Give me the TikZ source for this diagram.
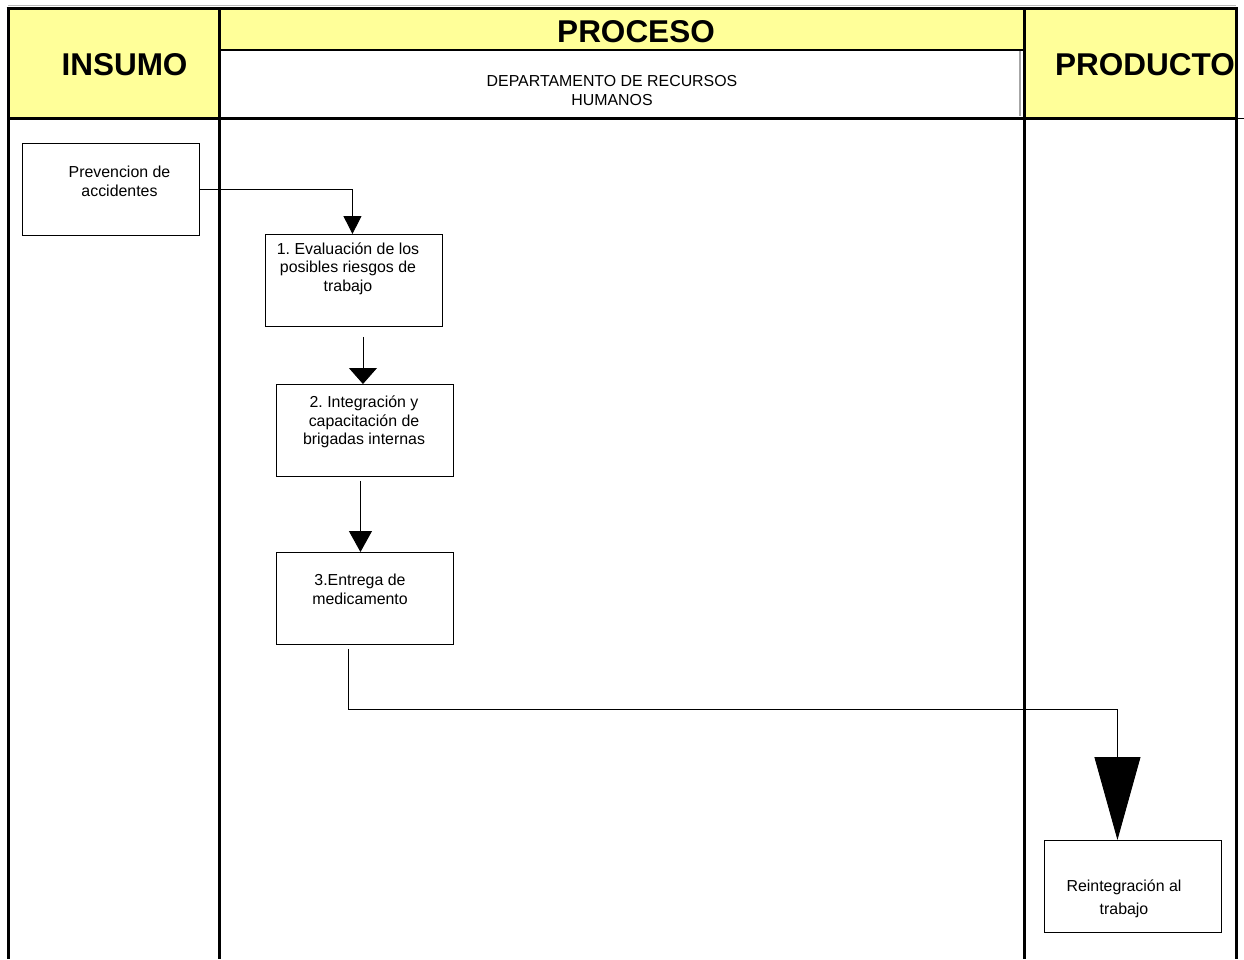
\documentclass[tikz,border=0pt]{standalone}
\usepackage{fontspec}
\setmainfont{Liberation Sans}
\usetikzlibrary{arrows.meta,calc}
\definecolor{hdr}{HTML}{FFFF99}
\frenchspacing
\begin{document}
\begin{tikzpicture}[x=1pt,y=-1pt,
  lane/.style={line width=3pt},
  stepbox/.style={draw, line width=0.9pt, minimum width=177pt, minimum height=92pt,
    inner sep=0pt, anchor=north west},
  txt/.style={font=\fontsize{15.9}{18.6}\selectfont, align=center, inner sep=0pt},
  big/.style={font=\fontsize{31.5}{34}\selectfont\bfseries, inner sep=0pt},
  flow/.style={line width=0.9pt}]
\useasboundingbox (0,0) rectangle (1244,959);
\fill[white] (0,0) rectangle (1244,959);

% header cells
\fill[hdr] (8,8) rectangle (219,118);
\fill[hdr] (219,8) rectangle (1024,50);
\fill[hdr] (1024,8) rectangle (1236,118);
\draw[gray!55, line width=0.8pt] (8,5) -- (1236,5);
\draw[gray!70, line width=1.3pt] (1020,50) -- (1020,116);
\draw[line width=0.6pt] (1236,118) -- (1244,118);

\node[big] (insumo) at (124.5,65) {INSUMO};
\node[big] (proceso) at (636,32) {PROCESO};
\node[big, anchor=west] (producto) at (1055,65) {PRODUCTO};
\node[txt] (depto) at (612,90.5) {DEPARTAMENTO DE RECURSOS\\HUMANOS};

% swimlane frame
\draw[lane] (6.5,8) -- (1237.5,8);
\draw[lane] (8,8) -- (8,959);
\draw[lane] (219,8) -- (219,959);
\draw[lane] (1024,8) -- (1024,959);
\draw[lane] (1236,8) -- (1236,959);
\draw[lane] (8,118) -- (1236,118);
\draw[line width=2.5pt] (219,50) -- (1024,50);

% process boxes
\node[stepbox] (prev) at (22,143) {};
\node[stepbox] (b1) at (265,234) {};
\node[stepbox] (b2) at (276,384) {};
\node[stepbox] (b3) at (276,552) {};
\node[stepbox] (rein) at (1044,840) {};

\node[txt] (tprev) at (119.5,181.5) {Prevencion de\\accidentes};
\node[txt] (tb1) at (348,268.5) {1. Evaluación de los\\posibles riesgos de\\trabajo};
\node[txt] (tb2) at (364,422) {2. Integración y\\capacitación de\\brigadas internas};
\node[txt] (tb3) at (360,589.5) {3.Entrega de\\medicamento};
\node[txt] (trein) at (1124,898.5) {Reintegración al\\[4.5pt]trabajo};

% connectors
\draw[flow, -{Triangle[length=18pt,width=18pt]}]
  (prev.east) -| ($(b1.north)+(-1.5,0)$);
\draw[flow, -{Triangle[length=16pt,width=28pt]}]
  ($(b1.south)+(9,10)$) -- ($(b2.north)+(-2,0)$);
\draw[flow, -{Triangle[length=21pt,width=23pt]}]
  ($(b2.south)+(-4.5,4)$) -- ($(b3.north)+(-4.5,0)$);
\draw[flow, -{Triangle[length=83pt,width=46pt]}]
  ($(b3.south)+(-16.5,4)$) -- ++(0,60.5) -| ($(rein.north)+(-15.5,0)$);
\end{tikzpicture}
\end{document}
